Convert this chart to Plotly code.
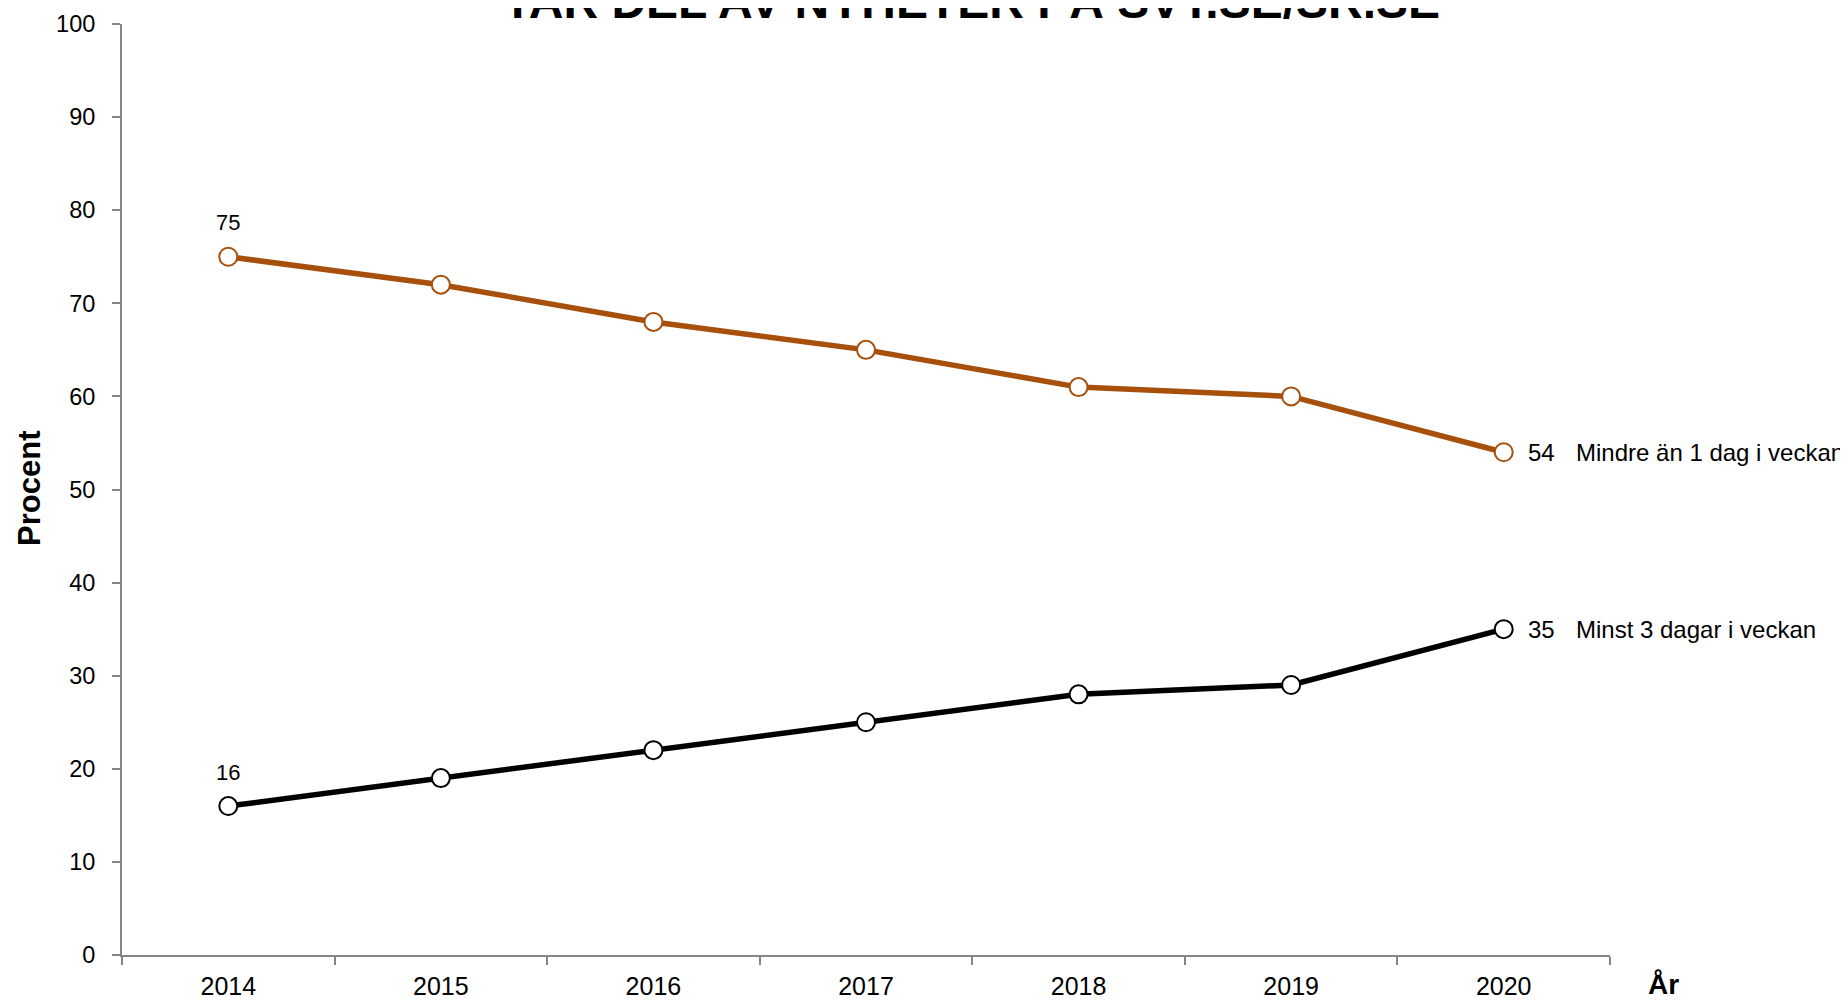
import plotly.graph_objects as go

years = ["2014", "2015", "2016", "2017", "2018", "2019", "2020"]
mindre_an_1_dag = [75, 72, 68, 65, 61, 60, 54]
minst_3_dagar = [16, 19, 22, 25, 28, 29, 35]
series_names = ["Mindre än 1 dag i veckan", "Minst 3 dagar i veckan"]
title_text = "TAR DEL AV NYHETER PÅ SVT.SE/SR.SE"

# page body has an 8px margin, so the figure is sized to fit the window exactly
FW, FH = 1840, 992
L, T = 114.3, 15.5
PW, PH = 1487.7, 931.5
R = FW - L - PW
B = FH - T - PH
FONT = "Liberation Sans, Arial, sans-serif"
ORANGE = "#A6500C"
AXIS = "#868686"


def fx(x):
    return (x - L) / PW


def fy(y):
    return (FH - B - y) / PH


fig = go.Figure()
for vals, color in [(mindre_an_1_dag, ORANGE), (minst_3_dagar, "#000000")]:
    fig.add_trace(go.Scatter(
        x=years, y=vals, mode="lines+markers",
        line=dict(color=color, width=5.5),
        marker=dict(size=18, color="white", line=dict(color=color, width=2)),
        showlegend=False, hoverinfo="x+y", cliponaxis=False,
    ))

ann = []
last = len(years) - 1
for vals, name in [(mindre_an_1_dag, series_names[0]), (minst_3_dagar, series_names[1])]:
    ann.append(dict(x=0, y=vals[0], xref="x", yref="y", text=str(vals[0]),
                    showarrow=False, yshift=34, font=dict(size=22, color="black", family=FONT)))
    ann.append(dict(x=last, y=vals[-1], xref="x", yref="y", text=str(vals[-1]),
                    showarrow=False, xanchor="left", xshift=22,
                    font=dict(size=24, color="black", family=FONT)))
    ann.append(dict(x=last, y=vals[-1], xref="x", yref="y", text=name,
                    showarrow=False, xanchor="left", xshift=70,
                    font=dict(size=24, color="black", family=FONT)))

ann.append(dict(x=fx(964), y=fy(11), xref="paper", yref="paper", text="<b>" + title_text + "</b>",
                showarrow=False, xanchor="center", yanchor="bottom", yshift=-10,
                font=dict(size=48, color="black", family=FONT)))
ann.append(dict(x=fx(1655), y=fy(977), xref="paper", yref="paper", text="<b>År</b>",
                showarrow=False, xanchor="center", yanchor="middle",
                font=dict(size=28, color="black", family=FONT)))
ann.append(dict(x=fx(22), y=fy(480), xref="paper", yref="paper", text="<b>Procent</b>",
                showarrow=False, xanchor="center", yanchor="middle", textangle=-90,
                font=dict(size=31, color="black", family=FONT)))

fig.update_layout(
    width=FW, height=FH, autosize=False,
    margin=dict(l=L, r=R, t=T, b=B, pad=0, autoexpand=False),
    paper_bgcolor="white", plot_bgcolor="white",
    font=dict(family=FONT, color="black"),
    annotations=ann,
    xaxis=dict(type="category", range=[-0.5, 6.5], showgrid=False, zeroline=False,
               showline=True, linecolor=AXIS, linewidth=2, automargin=False,
               ticks="outside", tickson="boundaries", ticklen=8, tickcolor=AXIS, tickwidth=1.5,
               tickfont=dict(size=25, color="black", family=FONT), ticklabelstandoff=8),
    yaxis=dict(range=[0, 100], dtick=10, showgrid=False, zeroline=False,
               showline=True, linecolor=AXIS, linewidth=2, automargin=False,
               ticks="outside", ticklen=8, tickcolor=AXIS, tickwidth=1.5,
               tickfont=dict(size=23.5, color="black", family=FONT), ticklabelstandoff=12),
)

fig.write_html("out.html")
